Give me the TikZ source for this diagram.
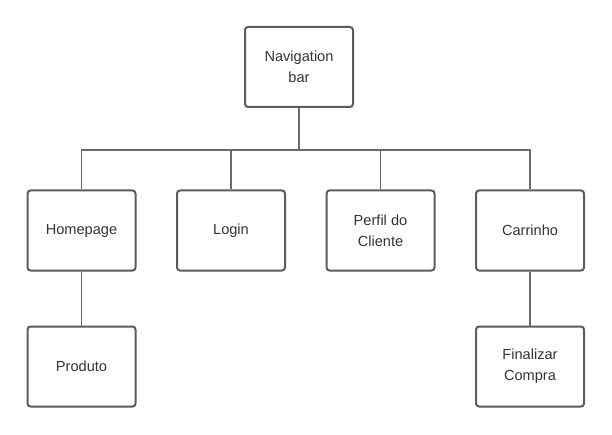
\documentclass[tikz,border=0pt]{standalone}
\usepackage{fontspec}
\setmainfont{Liberation Sans}
\definecolor{boxline}{HTML}{5C5C5C}
\definecolor{wire}{HTML}{6A6A6A}
\definecolor{label}{HTML}{333333}
\begin{document}
\begin{tikzpicture}[
    x=1pt,
    y=-1pt,
    page/.style={draw=boxline, line width=2pt, rounded corners=3pt,
      minimum width=108pt, minimum height=80pt, align=center,
      text=label, font=\fontsize{14.6}{21}\selectfont},
    link/.style={draw=wire, line width=1.2pt}]

    \useasboundingbox (0,0) rectangle (612,435);

    % Top menu
    \node[page] (nav) at (299,67) {Navigation\\bar};
    \coordinate (bus) at (299,150);
    \draw[link] (nav) -- (bus);

    % Pages under the menu
    \node[page] (home) at (81.5,230.5) {Homepage};
    \node[page] (login) at (231,230.5) {Login};
    \node[page] (perfil) at (380.5,230.5) {Perfil do\\Cliente};
    \node[page] (carrinho) at (530,230.5) {Carrinho};

    \foreach \p in {home,login,perfil,carrinho} {
      \draw[link] (\p.north) |- (bus);
    }

    % Sub pages
    \node[page] (produto) at (81.5,366.5) {Produto};
    \draw[link] (home) -- (produto);

    \node[page] (finalizar) at (530,366.5) {Finalizar\\Compra};
    \draw[link] (carrinho) -- (finalizar);
  \end{tikzpicture}
\end{document}
